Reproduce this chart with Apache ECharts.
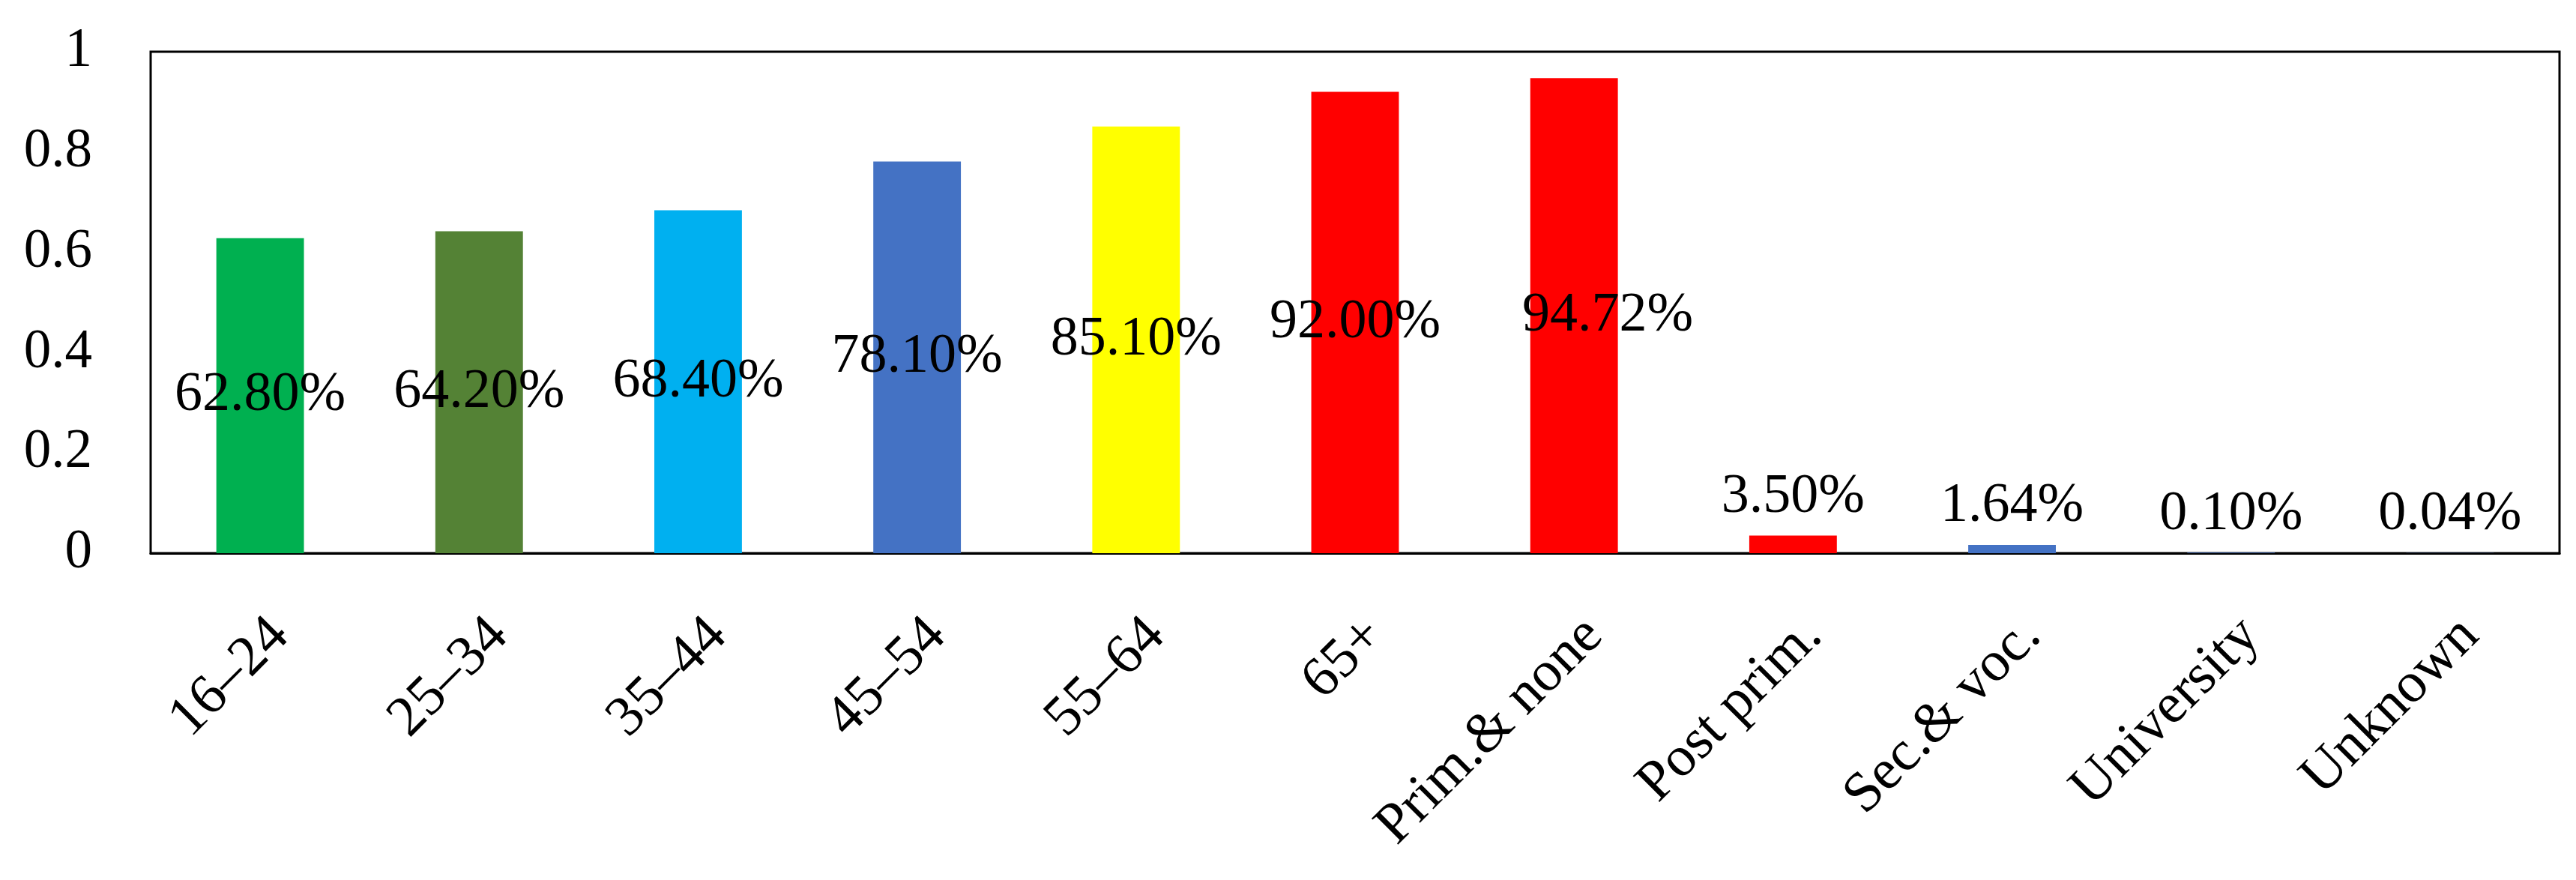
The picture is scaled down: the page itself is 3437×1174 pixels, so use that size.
<!DOCTYPE html>
<html>
<head>
<meta charset="utf-8">
<script src="https://cdn.jsdelivr.net/npm/echarts@6/dist/echarts.min.js"></script>
<style>
html,body{margin:0;padding:0;background:#fff;}
#chart{width:3437px;height:1174px;}
</style>
</head>
<body>
<div id="chart"></div>
<script>
const categories = ['16–24','25–34','35–44','45–54','55–64','65+','Prim.& none','Post prim.','Sec.& voc.','University','Unknown'];
const values = [0.628, 0.642, 0.684, 0.781, 0.851, 0.920, 0.9472, 0.035, 0.0164, 0.0010, 0.0004];
const barColors = ['#00B050','#548235','#00B0F0','#4472C4','#FFFF00','#FF0000','#FF0000','#FF0000','#4472C4','#4472C4','#4472C4'];
const labelInside = [true,true,true,true,true,true,true,false,false,false,false];

const chart = echarts.init(document.getElementById('chart'), null, {renderer:'canvas'});
const serif = '"Liberation Serif", "Times New Roman", serif';

const data = values.map((v,i) => ({
  value: v,
  itemStyle: {color: barColors[i]},
  label: labelInside[i]
    ? {position: 'inside', offset: i === 6 ? [45, 0] : [0, 0]}
    : {position: 'top', distance: 14}
}));

chart.setOption({
  animation: false,
  backgroundColor: '#ffffff',
  grid: {left: 201, right: 22, top: 69, bottom: 436, show: true, borderColor: '#000', borderWidth: 3, backgroundColor: 'transparent'},
  xAxis: {
    type: 'category',
    data: categories,
    axisLine: {show: true, lineStyle: {color: '#000', width: 3}},
    axisTick: {show: false},
    axisLabel: {
      interval: 0, rotate: 45, margin: 72,
      fontFamily: serif, fontSize: 76, color: '#000',
      verticalAlign: 'top'
    },
    splitLine: {show: false}
  },
  yAxis: {
    type: 'value', min: 0, max: 1, interval: 0.2,
    axisLine: {show: false}, axisTick: {show: false},
    splitLine: {show: false},
    axisLabel: {margin: 78, fontFamily: serif, fontSize: 73, color: '#000'}
  },
  series: [{
    type: 'bar',
    data: data,
    barCategoryGap: '60%',
    label: {
      show: true,
      fontFamily: serif, fontSize: 74, color: '#000',
      formatter: p => (p.value * 100).toFixed(2) + '%'
    }
  }]
});
</script>
</body>
</html>
